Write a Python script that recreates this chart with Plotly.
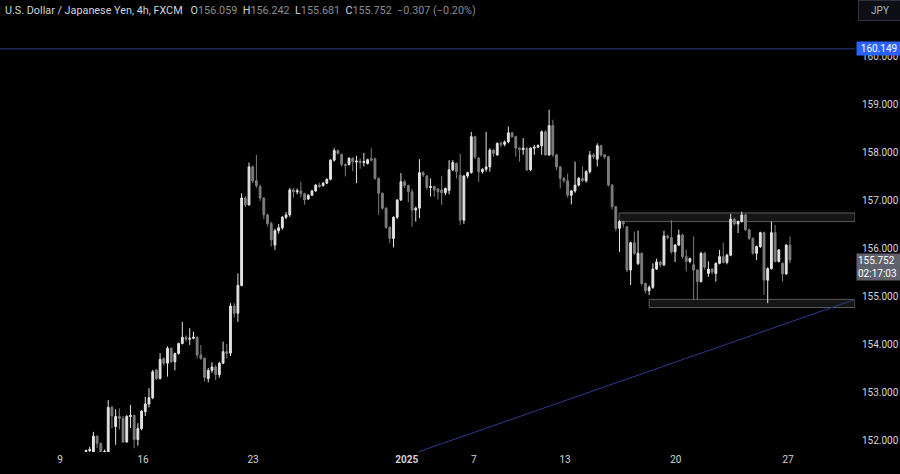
import plotly.graph_objects as go

# ---------------- data ----------------
opens = [151.76,151.78,151.74,152.08,151.93,151.74,151.74,152.68,152.28,152.49,
         152.45,151.96,152.49,152.51,152.01,152.24,152.59,152.75,152.88,153.46,
         153.28,153.70,153.60,153.91,153.63,153.80,154.01,154.14,154.10,154.12,
         154.14,153.77,153.70,153.28,153.45,153.52,153.36,153.60,153.84,153.81,
         154.79,154.64,155.22,157.04,156.90,157.69,157.40,157.28,157.04,156.69,
         156.51,156.06,156.36,156.42,156.64,156.69,157.21,157.17,157.19,157.13,
         157.02,157.10,157.19,157.31,157.30,157.35,157.43,157.83,158.03,157.95,
         157.74,157.74,157.87,157.79,157.81,157.78,157.76,157.86,157.86,157.45,
         157.14,156.83,156.43,156.20,156.64,157.00,157.38,157.30,157.17,156.79,
         156.83,157.57,157.50,157.26,157.28,157.23,157.21,157.15,157.20,157.63,
         157.76,157.52,156.58,157.50,157.57,158.32,157.87,157.59,157.64,157.69,
         158.04,157.94,158.18,158.16,158.21,158.40,158.32,158.08,158.05,158.08,
         157.63,158.08,158.10,158.13,158.42,157.94,158.55,157.94,157.69,157.45,
         157.40,157.10,157.19,157.31,157.45,157.40,157.59,157.94,157.85,158.13,
         157.94,157.90,157.31,156.86,156.41,156.55,156.44,155.54,156.11,155.67,
         155.89,155.26,155.11,155.18,155.56,155.71,155.65,156.25,156.22,155.92,
         156.06,156.27,155.82,155.72,155.65,155.54,155.30,155.89,155.47,155.56,
         155.47,155.68,155.82,155.70,155.85,156.60,156.50,156.55,156.69,156.38,
         156.20,155.89,156.03,156.32,155.33,155.57,156.32,155.72,155.68,155.46,
         156.059]
highs = [151.80,151.86,152.17,152.10,151.95,151.80,152.83,152.72,152.64,152.66,
         152.50,152.52,152.73,152.53,152.35,152.62,152.90,153.08,153.46,153.48,
         153.81,153.72,153.95,153.93,153.82,154.03,154.46,154.18,154.33,154.26,
         154.16,153.98,153.72,153.50,153.62,153.56,153.63,154.05,154.00,154.85,
         154.85,155.47,157.14,157.08,157.78,157.72,157.94,157.32,157.06,156.72,
         156.55,156.40,156.50,156.67,156.75,157.25,157.25,157.24,157.38,157.15,
         157.12,157.21,157.33,157.36,157.38,157.45,157.85,158.08,158.05,157.97,
         157.76,157.89,157.89,157.92,157.87,157.98,157.86,158.08,157.88,157.47,
         157.16,156.85,156.45,156.66,157.02,157.56,157.42,157.32,157.23,156.86,
         157.85,157.60,157.52,157.45,157.30,157.25,157.50,157.26,157.83,157.83,
         157.78,157.97,157.52,157.59,158.42,158.34,157.90,157.66,158.42,158.08,
         158.06,158.20,158.22,158.24,158.53,158.42,158.34,158.10,158.29,158.10,
         158.10,158.15,158.16,158.45,158.45,158.88,158.67,157.96,157.71,157.48,
         157.55,157.21,157.80,157.48,157.70,157.62,158.02,157.98,158.18,158.15,
         157.96,157.92,157.33,156.88,156.58,156.57,156.46,156.13,156.34,156.36,
         155.91,155.28,155.22,155.68,155.78,155.73,156.36,156.28,156.58,156.08,
         156.38,156.30,155.97,155.80,156.24,155.56,155.92,155.92,155.72,155.58,
         155.70,155.96,156.11,155.88,156.71,156.63,156.57,156.76,156.72,156.40,
         156.22,156.05,156.34,156.34,155.60,156.55,156.48,155.98,155.70,156.08,
         156.242]
lows = [151.72,151.74,151.72,151.83,151.70,151.70,151.72,152.24,151.90,152.22,
        151.94,151.94,152.25,151.83,151.88,152.20,152.50,152.68,152.85,153.25,
        153.26,153.55,153.32,153.60,153.45,153.78,153.99,154.05,153.98,154.10,
        153.70,153.67,153.22,153.20,153.40,153.25,153.30,153.58,153.70,153.75,
        154.55,154.46,155.20,156.85,156.88,157.35,157.25,156.98,156.60,156.45,
        156.03,155.96,156.30,156.38,156.60,156.65,157.05,157.12,157.05,156.90,
        157.00,157.08,157.17,157.25,157.28,157.33,157.41,157.80,157.95,157.70,
        157.49,157.72,157.60,157.35,157.65,157.70,157.74,157.80,157.42,156.69,
        156.80,156.40,156.10,156.01,156.60,156.98,157.25,156.95,156.44,156.55,
        156.62,157.48,157.21,157.07,157.07,157.01,156.90,157.10,157.12,157.60,
        157.45,156.48,156.50,157.45,157.55,157.85,157.38,157.55,157.59,157.59,
        157.90,157.92,158.10,158.12,158.18,158.30,157.90,157.80,157.94,157.60,
        157.60,157.94,158.08,157.94,157.92,157.92,157.90,157.62,157.24,157.36,
        157.05,156.91,157.15,157.28,157.38,157.36,157.55,157.85,157.70,157.90,
        157.85,157.28,156.80,156.35,155.92,156.42,155.50,155.23,155.86,155.65,
        155.22,155.05,155.02,155.15,155.54,155.60,155.62,156.18,155.88,155.71,
        156.04,155.78,155.51,155.68,154.92,154.92,155.28,155.55,155.40,155.45,
        155.30,155.66,155.68,155.66,155.83,156.47,156.31,156.53,156.35,156.17,
        155.86,155.75,156.00,155.02,154.85,155.55,155.70,155.70,155.30,155.44,
        155.681]
closes = [151.78,151.80,152.08,151.93,151.74,151.76,152.68,152.50,152.49,152.45,
          151.96,152.49,152.51,152.01,152.24,152.60,152.75,152.88,153.42,153.28,
          153.68,153.60,153.91,153.63,153.80,154.01,154.14,154.10,154.12,154.14,
          153.77,153.70,153.30,153.45,153.52,153.36,153.60,153.84,153.80,154.79,
          154.64,155.22,157.04,156.90,157.69,157.40,157.30,157.04,156.69,156.51,
          156.17,156.36,156.42,156.64,156.69,157.21,157.17,157.19,157.13,157.00,
          157.10,157.19,157.31,157.28,157.35,157.43,157.83,158.03,157.97,157.74,
          157.72,157.87,157.80,157.81,157.78,157.80,157.84,157.83,157.45,157.14,
          156.83,156.43,156.20,156.64,157.00,157.38,157.30,157.17,156.79,156.83,
          157.57,157.52,157.26,157.28,157.21,157.17,157.15,157.24,157.63,157.78,
          157.59,156.58,157.50,157.57,158.32,157.90,157.59,157.64,157.69,158.04,
          157.97,158.18,158.16,158.21,158.40,158.32,158.08,158.05,158.08,157.63,
          158.08,158.10,158.13,158.42,157.94,158.55,157.94,157.69,157.45,157.40,
          157.10,157.19,157.31,157.45,157.40,157.59,157.94,157.90,158.13,157.94,
          157.90,157.31,156.86,156.41,156.55,156.50,155.54,156.11,155.89,155.89,
          155.26,155.11,155.18,155.56,155.71,155.65,156.25,156.22,155.92,156.06,
          156.27,155.82,155.72,155.78,155.54,155.30,155.89,155.60,155.56,155.50,
          155.68,155.82,155.70,155.85,156.60,156.50,156.55,156.69,156.38,156.20,
          155.89,156.03,156.32,155.33,155.57,156.32,155.72,155.96,155.46,156.06,
          155.752]

bar_index = list(range(len(closes)))

# time-axis labels (positions in bar units)
date_tick_pos = [-7.0, 15.4, 45.1, 86.6, 104.7, 129.3, 159.2, 189.5]
date_tick_text = ["9", "16", "23", "<b>2025</b>", "7", "13", "20", "27"]

price_ticks = [152, 153, 154, 155, 156, 157, 158, 159, 160]
price_tick_text = ["%.3f" % p for p in price_ticks]

# drawings
level_high = 160.149
resist_box = [143.9, 156.55, 156.73]   # start bar, bottom, top
support_box = [152.0, 154.76, 154.93]
trend_x = [89.6, 207.6]
trend_y = [151.75, 154.93]

last_price = 155.752
countdown = "02:17:03"

x_range = [-23.21, 207.56]
y_range = [151.75, 161.1667]

UP = "#e3e3e3"
DOWN = "#7d7d7d"
TXT = "#d1d4dc"
GREY = "#8a8d96"

fig = go.Figure()
fig.add_trace(go.Candlestick(
    x=bar_index, open=opens, high=highs, low=lows, close=closes,
    increasing=dict(line=dict(color=UP, width=1), fillcolor=UP),
    decreasing=dict(line=dict(color=DOWN, width=1), fillcolor=DOWN),
    whiskerwidth=0, hoverinfo="skip", showlegend=False,
))

shapes = []
shapes.append(dict(type="line", xref="x domain", yref="y", x0=0, x1=1,
                   y0=level_high, y1=level_high,
                   line=dict(color="#2c3a8c", width=1), layer="below"))
for bx in (resist_box, support_box):
    shapes.append(dict(type="rect", xref="x", yref="y", x0=bx[0], x1=x_range[1],
                       y0=bx[1], y1=bx[2], line=dict(color="#5a5a5a", width=1),
                       fillcolor="#161616", layer="below"))
shapes.append(dict(type="line", xref="x", yref="y", x0=trend_x[0], x1=trend_x[1],
                   y0=trend_y[0], y1=trend_y[1],
                   line=dict(color="#2c3a8c", width=1), layer="below"))

title_html = (
    f"<span style='color:{TXT}'>U.S. Dollar / Japanese Yen, 4h, FXCM</span>"
    f"&nbsp;&nbsp;&nbsp;<span style='color:{TXT}'>O</span><span style='color:{GREY}'>{opens[-1]:.3f}</span>"
    f"&nbsp;&nbsp;<span style='color:{TXT}'>H</span><span style='color:{GREY}'>{highs[-1]:.3f}</span>"
    f"&nbsp;&nbsp;<span style='color:{TXT}'>L</span><span style='color:{GREY}'>{lows[-1]:.3f}</span>"
    f"&nbsp;&nbsp;<span style='color:{TXT}'>C</span><span style='color:{GREY}'>{closes[-1]:.3f}</span>"
    f"&nbsp;&nbsp;<span style='color:{GREY}'>−0.307 (−0.20%)</span>"
)

annotations = [
    dict(xref="paper", yref="paper", x=0, y=1, xanchor="left", yanchor="top",
         xshift=3, yshift=-2, text=title_html, showarrow=False,
         font=dict(family="Roboto", size=10.8, color=TXT)),
    dict(xref="paper", yref="y", x=1, y=level_high, xanchor="left", yanchor="middle",
         xshift=1, text=f"{level_high:.3f}", showarrow=False, bgcolor="#2962ff",
         borderpad=1, width=42, align="center",
         font=dict(family="Roboto", size=10, color="#ffffff")),
    dict(xref="paper", yref="y", x=1, y=last_price, xanchor="left", yanchor="top",
         xshift=1, yshift=7, text=f"{last_price:.3f}<br>{countdown}", showarrow=False,
         bgcolor="#5f626c", borderpad=1, width=42, align="left",
         font=dict(family="Roboto", size=10, color="#ffffff")),
    dict(xref="paper", yref="paper", x=1, y=1, xanchor="left", yanchor="top",
         xshift=3, yshift=0, text="JPY", showarrow=False, bgcolor="#0d0f14",
         bordercolor="#2e323c", borderwidth=1, borderpad=4, width=34,
         font=dict(family="Roboto", size=10, color="#b2b5be")),
]

fig.update_layout(
    width=900, height=474,
    margin=dict(l=0, r=45, t=0, b=22),
    paper_bgcolor="#000000", plot_bgcolor="#000000",
    showlegend=False, shapes=shapes, annotations=annotations,
    hovermode=False,
    font=dict(family="Roboto", size=10, color=TXT),
    xaxis=dict(range=x_range, showgrid=False, zeroline=False, showline=False,
               ticks="", tickvals=date_tick_pos, ticktext=date_tick_text,
               tickfont=dict(family="Roboto", size=10, color=TXT),
               rangeslider=dict(visible=False), fixedrange=True),
    yaxis=dict(range=y_range, side="right", showgrid=False, zeroline=False,
               showline=False, ticks="", tickvals=price_ticks,
               ticktext=price_tick_text, ticklabelstandoff=6,
               tickfont=dict(family="Roboto", size=10, color=TXT), fixedrange=True),
)

fig.write_html("out.html", config={"displayModeBar": False, "staticPlot": True},
               post_script="document.body.style.margin='0';document.body.style.background='#000';")
